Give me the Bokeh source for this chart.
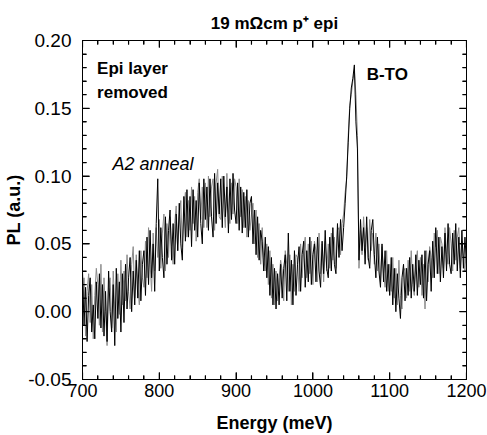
from bokeh.plotting import figure
from bokeh.models import (ColumnDataSource, LinearAxis, SingleIntervalTicker,
                          NumeralTickFormatter, Range1d, Label)
from bokeh.embed import file_html
from bokeh.resources import INLINE

# ---- data (PL in units of 1e-3 a.u., energy step 2 meV from 700 to 1200) ----
energy_start = 700
energy_step = 2

pl_black_milli = [
    30, -10, 18, -22, 12, 25, -15, 5, -20, 22,
    -5, 28, -12, 20, -18, 15, -22, 30, 0, -15,
    20, -25, 32, -5, 22, -15, 28, -8, 35, 2,
    25, 40, 0, 30, 5, 38, 10, 45, 8, 35,
    45, 12, 55, 20, 60, 25, 50, 15, 65, 98,
    30, 62, 40, 25, 70, 35, 60, 75, 38, 65,
    35, 72, 45, 80, 50, 38, 85, 52, 90, 55,
    85, 48, 90, 60, 82, 55, 95, 65, 50, 98,
    68, 92, 60, 98, 70, 55, 102, 65, 95, 72,
    98, 62, 100, 70, 92, 58, 98, 68, 102, 75,
    65, 95, 60, 92, 58, 88, 62, 90, 55, 80,
    85, 50, 75, 42, 70, 38, 60, 52, 30, 55,
    25, 48, 12, 40, 5, 32, 2, 28, 5, 35,
    10, 32, 42, 8, 58, 15, 38, 5, 45, 12,
    35, 48, 15, 42, 52, 18, 45, 22, 55, 20,
    42, 50, 22, 55, 30, 18, 52, 28, 60, 32,
    25, 55, 30, 62, 35, 28, 65, 40, 68, 45,
    62, 80, 100, 125, 150, 165, 172, 182, 140, 120,
    38, 68, 45, 62, 35, 70, 40, 32, 60, 68,
    42, 25, 55, 30, 18, 50, 22, 45, 15, 35,
    12, 40, 5, 32, 0, 28, 10, -5, 25, 35,
    8, 32, 12, 40, 10, 35, 15, 42, 12, 38,
    20, 42, 10, 45, 8, 35, 45, 15, 52, 25,
    62, 28, 55, 22, 48, 25, 58, 30, 65, 35,
    28, 58, 35, 65, 30, 55, 25, 60, 32, 55,
    35,
]

pl_gray_milli = [
    -5, 25, -18, 15, 28, -8, 20, -20, 12, 32,
    20, -10, 35, -15, 25, 0, -25, 18, 25, -12,
    30, 2, -15, 28, -2, 38, 5, 30, 8, 42,
    15, 2, 35, 48, 10, 42, 20, 5, 45, 25,
    18, 52, 25, 62, 35, 15, 58, 30, 62, 40,
    68, 32, 58, 72, 30, 65, 40, 70, 48, 35,
    65, 78, 45, 70, 82, 48, 75, 88, 55, 82,
    60, 92, 65, 85, 52, 88, 98, 68, 92, 62,
    95, 62, 100, 70, 92, 98, 60, 95, 105, 70,
    68, 100, 78, 62, 102, 75, 65, 95, 72, 98,
    92, 65, 98, 70, 90, 62, 85, 55, 82, 60,
    72, 80, 50, 75, 40, 65, 35, 62, 40, 30,
    50, 20, 45, 10, 35, 5, 30, 8, 25, 38,
    30, 8, 45, 35, 15, 42, 5, 35, 15, 42,
    40, 15, 50, 25, 45, 55, 25, 50, 28, 52,
    20, 52, 45, 22, 58, 28, 50, 22, 52, 30,
    50, 32, 58, 38, 55, 32, 60, 62, 42, 65,
    72, 88, 98, 130, 152, 160, 170, 178, 160, 130,
    32, 60, 42, 70, 48, 62, 38, 68, 45, 58,
    35, 58, 30, 50, 22, 48, 28, 18, 45, 15,
    35, 15, 40, 10, 32, 5, 38, 12, 2, 30,
    32, 10, 38, 15, 45, 20, 12, 35, 45, 18,
    40, 12, 35, 2, 45, 22, 48, 40, 25, 58,
    48, 60, 28, 55, 50, 32, 62, 42, 35, 62,
    50, 30, 60, 38, 55, 62, 32, 52, 40, 30,
    48,
]

energy = [energy_start + energy_step * i for i in range(len(pl_black_milli))]
pl_black = [v / 1000 for v in pl_black_milli]
pl_gray = [v / 1000 for v in pl_gray_milli]

title_text = "19 m\u03a9cm p\u207a epi"
x_label = "Energy (meV)"
y_label = "PL (a.u.)"

X0, X1 = 700, 1200
Y0, Y1 = -0.05, 0.20
X_MAJOR, X_MINOR = 100, 20
Y_MAJOR, Y_MINOR = 0.05, 0.01

FONT = "Liberation Sans"

W, H = 487, 435
BL, BR, BT, BB = 82, 21, 40, 55

p = figure(width=W, height=H, output_backend="svg", toolbar_location=None,
           x_range=Range1d(X0, X1), y_range=Range1d(Y0, Y1),
           min_border_left=BL, min_border_right=BR, min_border_top=BT,
           min_border_bottom=BB, x_axis_location=None, y_axis_location=None)

p.title.text = title_text
p.title.align = "center"
p.title.text_font = FONT
p.title.text_font_size = "17px"
p.title.text_font_style = "bold"
p.title.text_color = "black"
p.title.offset = 0
p.title.standoff = 16

p.grid.visible = False
p.outline_line_color = "black"
p.outline_line_width = 1
p.background_fill_color = "white"
p.border_fill_color = "white"

src = ColumnDataSource(dict(x=energy, b=pl_black, g=pl_gray))
p.line("x", "g", source=src, line_color="#8a8a8a", line_width=1)
p.line("x", "b", source=src, line_color="black", line_width=1)


def mk_axis(show_labels, ticker, fmt=None, label=None, lab_standoff=10, ax_standoff=8,
            lab_size="18px"):
    ax = LinearAxis(ticker=ticker)
    ax.major_tick_in = 7
    ax.major_tick_out = 0
    ax.minor_tick_in = 4
    ax.minor_tick_out = 0
    ax.axis_line_color = "black"
    ax.major_tick_line_color = "black"
    ax.minor_tick_line_color = "black"
    if fmt is not None:
        ax.formatter = fmt
    if show_labels:
        ax.major_label_text_font = FONT
        ax.major_label_text_font_size = lab_size
        ax.major_label_text_color = "black"
        ax.major_label_standoff = lab_standoff
        ax.axis_label = label
        ax.axis_label_text_font = FONT
        ax.axis_label_text_font_size = "18px"
        ax.axis_label_text_font_style = "bold"
        ax.axis_label_text_color = "black"
        ax.axis_label_standoff = ax_standoff
    else:
        ax.major_label_text_font_size = "0px"
        ax.major_label_text_alpha = 0
    return ax


p.add_layout(mk_axis(True, SingleIntervalTicker(interval=X_MAJOR, num_minor_ticks=5),
                     label=x_label, lab_standoff=4, ax_standoff=13), "below")
p.add_layout(mk_axis(False, SingleIntervalTicker(interval=X_MAJOR, num_minor_ticks=5)), "above")
p.add_layout(mk_axis(True, SingleIntervalTicker(interval=Y_MAJOR, num_minor_ticks=5),
                     fmt=NumeralTickFormatter(format="0.00"), label=y_label,
                     lab_standoff=11, ax_standoff=1, lab_size="19px"), "left")
p.add_layout(mk_axis(False, SingleIntervalTicker(interval=Y_MAJOR, num_minor_ticks=5),
                     fmt=NumeralTickFormatter(format="0.00")), "right")

# inward tick marks on all four sides, drawn as thin filled bars (sizes in pixels)
frame_w = W - BL - BR
frame_h = H - BT - BB
dx_per_px = (X1 - X0) / frame_w
dy_per_px = (Y1 - Y0) / frame_h
TW = 1.2  # tick thickness in px

xt = [X0 + X_MINOR * i for i in range(int(round((X1 - X0) / X_MINOR)) + 1)]
yt = [round(Y0 + Y_MINOR * i, 6) for i in range(int(round((Y1 - Y0) / Y_MINOR)) + 1)]
x_major = [abs((v - X0) / X_MAJOR - round((v - X0) / X_MAJOR)) < 1e-6 for v in xt]
y_major = [abs((v - Y0) / Y_MAJOR - round((v - Y0) / Y_MAJOR)) < 1e-6 for v in yt]

ql, qr, qb, qt = [], [], [], []
for v, m in zip(xt, x_major):
    L = (7 if m else 4) * dy_per_px
    hw = TW / 2 * dx_per_px
    ql += [v - hw, v - hw]; qr += [v + hw, v + hw]
    qb += [Y0, Y1 - L]; qt += [Y0 + L, Y1]
for v, m in zip(yt, y_major):
    L = (7 if m else 4) * dx_per_px
    hh = TW / 2 * dy_per_px
    ql += [X0, X1 - L]; qr += [X0 + L, X1]
    qb += [v - hh, v - hh]; qt += [v + hh, v + hh]

p.quad(left=ql, right=qr, bottom=qb, top=qt, fill_color="black", line_color=None)

# annotations
p.add_layout(Label(x=719, y=0.186, text="Epi layer", text_font=FONT, text_font_size="17px",
                   text_font_style="bold", text_baseline="top", text_color="black"))
p.add_layout(Label(x=719, y=0.169, text="removed", text_font=FONT, text_font_size="17px",
                   text_font_style="bold", text_baseline="top", text_color="black"))
p.add_layout(Label(x=1070, y=0.182, text="B-TO", text_font=FONT, text_font_size="17px",
                   text_font_style="bold", text_baseline="top", text_color="black"))
p.add_layout(Label(x=739, y=0.116, text="A2 anneal", text_font=FONT, text_font_size="18px",
                   text_font_style="italic", text_baseline="top", text_color="black"))

open("out.html", "w").write(file_html(p, INLINE))
